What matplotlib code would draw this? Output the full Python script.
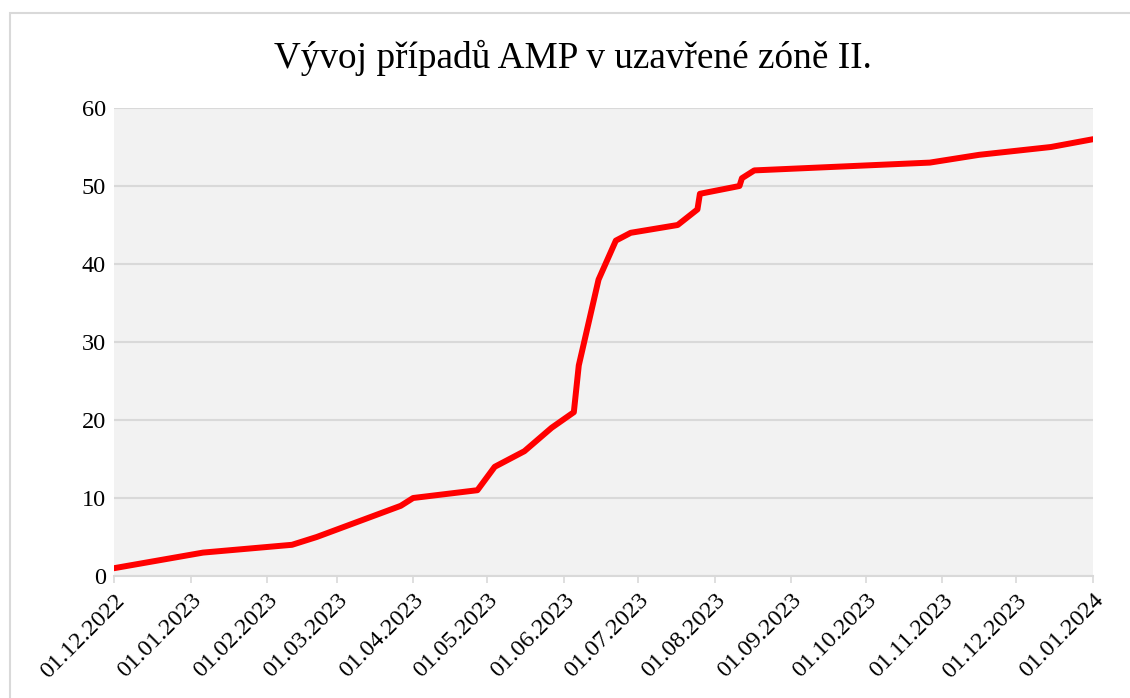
import matplotlib
matplotlib.use("Agg")
import matplotlib.pyplot as plt
import matplotlib.dates as mdates
import pandas as pd
from matplotlib.patches import Rectangle

plt.rcParams["font.family"] = ["Liberation Serif", "DejaVu Serif"]

# cumulative cases
dates = pd.to_datetime([
    "2022-12-01", "2023-01-06", "2023-02-11", "2023-02-21", "2023-03-27",
    "2023-04-01", "2023-04-27", "2023-05-04", "2023-05-16", "2023-05-27",
    "2023-06-05", "2023-06-07", "2023-06-15", "2023-06-22", "2023-06-28",
    "2023-07-17", "2023-07-25", "2023-07-26", "2023-08-11", "2023-08-12",
    "2023-08-17", "2023-10-27", "2023-11-16", "2023-12-15", "2024-01-01",
])
cases = [1, 3, 4, 5, 9,
         10, 11, 14, 16, 19,
         21, 27, 38, 43, 44,
         45, 47, 49, 50, 51,
         52, 53, 54, 55, 56]

title = "Vývoj případů AMP v uzavřené zóně II."
x_ticks = pd.date_range("2022-12-01", "2024-01-01", freq="MS")
y_ticks = [0, 10, 20, 30, 40, 50, 60]

grid_col = "#d9d9d9"

fig = plt.figure(figsize=(11.3, 6.98), dpi=100)
fig.patches.append(Rectangle((10 / 1130, -0.05), 1.2, 1 - 13 / 698 + 0.05,
                             transform=fig.transFigure, fill=False,
                             edgecolor=grid_col, linewidth=1.5))

ax = fig.add_axes([114 / 1130, 1 - 576 / 698, (1093 - 114) / 1130, (576 - 108) / 698])
ax.set_facecolor("#f2f2f2")
ax.plot(dates, cases, color="#ff0000", linewidth=4.3, solid_capstyle="round",
        zorder=3)

ax.set_xlim(x_ticks[0], x_ticks[-1])
ax.set_ylim(0, 60)
ax.set_yticks(y_ticks)
ax.set_xticks(x_ticks)
ax.xaxis.set_major_formatter(mdates.DateFormatter("%d.%m.%Y"))
ax.yaxis.grid(True, color=grid_col, linewidth=1.5)
ax.set_axisbelow(True)

for s in ["top", "right", "left"]:
    ax.spines[s].set_visible(False)
ax.spines["bottom"].set_color(grid_col)
ax.spines["bottom"].set_linewidth(1.5)
ax.tick_params(axis="y", length=0, pad=6, labelsize=17.5)
ax.tick_params(axis="x", length=5, color=grid_col, width=1.2, labelsize=17.5, pad=5)
for lbl in ax.get_xticklabels():
    lbl.set_rotation(45)
    lbl.set_ha("right")
    lbl.set_rotation_mode("anchor")

fig.text(573 / 1130, 1 - 58 / 698, title, ha="center", va="center", fontsize=26.8)

fig.savefig("out.png", dpi=100)
